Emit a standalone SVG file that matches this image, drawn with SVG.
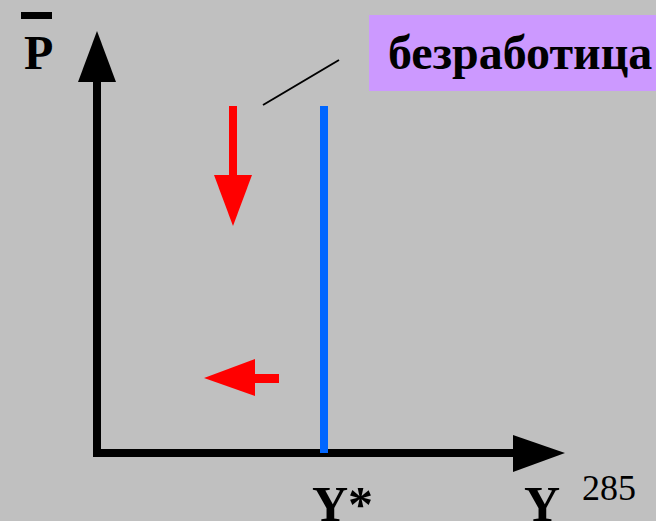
<svg xmlns="http://www.w3.org/2000/svg" width="656" height="521" viewBox="0 0 656 521">
<style>
.lbl{font-family:"Liberation Serif","Times New Roman",serif;font-weight:bold;fill:#000}
.red{fill:#FF0000}
</style>
<rect width="656" height="521" fill="#C0C0C0"/>
<g id="connectors">
<rect x="93" y="80" width="8" height="377" fill="#000"/>
<polygon points="97,31 116,82 78,82" fill="#000"/>
<rect x="93" y="449" width="422" height="8" fill="#000"/>
<polygon points="565,453 513,435 513,472" fill="#000"/>
<line x1="263" y1="105" x2="339" y2="60" stroke="#000" stroke-width="2"/>
</g>
<g id="blue-line"><rect x="320" y="106" width="8" height="347" fill="#0066FF"/></g>
<g id="arrow-down">
<rect class="red" x="229" y="106" width="8" height="71"/>
<polygon class="red" points="214,175 252,175 233,226"/>
</g>
<g id="arrow-left">
<rect class="red" x="253" y="374" width="26" height="9"/>
<polygon class="red" points="204,378 255,359 255,396"/>
</g>
<g id="label-p">
<rect x="21" y="12" width="31" height="7" fill="#000"/>
<text class="lbl" x="24" y="69" font-size="48">P</text>
</g>
<g id="label-unemployment">
<rect x="369" y="15" width="287" height="76" fill="#CC99FF"/>
<text class="lbl" x="388" y="69" font-size="48">безработица</text>
</g>
<g id="label-ystar"><text class="lbl" x="312" y="521" font-size="50">Y*</text></g>
<g id="label-y"><text class="lbl" x="524" y="521" font-size="50">Y</text></g>
<g id="page-num"><text x="582" y="500" font-size="36" font-family="Liberation Serif,'Times New Roman',serif">285</text></g>
</svg>
